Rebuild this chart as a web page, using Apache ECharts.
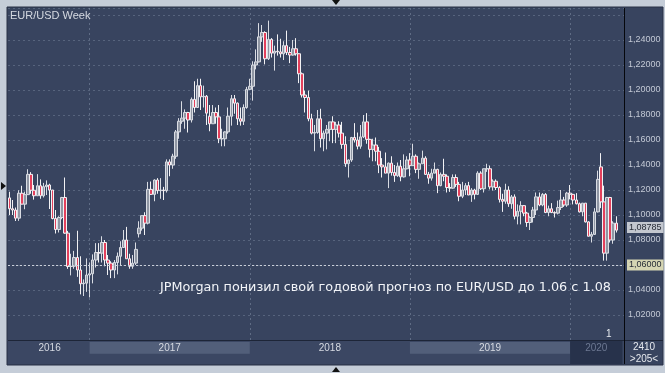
<!DOCTYPE html>
<html><head><meta charset="utf-8">
<script src="https://cdn.jsdelivr.net/npm/echarts@6/dist/echarts.min.js"></script>
<style>html,body{margin:0;padding:0;background:#c5cdd8;}#c{width:665px;height:373px;}</style>
</head><body><div id="c"></div>
<script>
// Weekly EUR/USD candles, each row: [open, high, low, close]
const firstWeek = '2016-07-04';
const ohlc2016 = [
[1.1137,1.1186,1.1000,1.1050],[1.1050,1.1120,1.1000,1.1040],[1.1040,1.1060,1.0952,1.0975],[1.0975,1.1198,1.0953,1.1174],
[1.1174,1.1234,1.1085,1.1087],[1.1087,1.1187,1.1046,1.1163],[1.1163,1.1366,1.1160,1.1325],[1.1325,1.1343,1.1170,1.1198],
[1.1198,1.1240,1.1123,1.1154],[1.1154,1.1327,1.1154,1.1234],[1.1234,1.1285,1.1130,1.1154],[1.1154,1.1257,1.1140,1.1227],
[1.1227,1.1277,1.1160,1.1240],[1.1240,1.1250,1.1048,1.1200],[1.1200,1.1200,1.0965,1.0972],[1.0972,1.1040,1.0852,1.0884],
[1.0884,1.0990,1.0860,1.0980],[1.0980,1.1145,1.0966,1.1140],[1.1140,1.1300,1.0850,1.0855],[1.0855,1.0873,1.0569,1.0588],
[1.0588,1.0690,1.0517,1.0590],[1.0590,1.0713,1.0570,1.0660],[1.0660,1.0874,1.0505,1.0560],[1.0560,1.0670,1.0365,1.0450],
[1.0450,1.0485,1.0352,1.0455],[1.0455,1.0653,1.0385,1.0520]
];
const ohlc2017 = [
[1.0520,1.0620,1.0341,1.0530],[1.0530,1.0685,1.0453,1.0640],[1.0640,1.0775,1.0580,1.0700],[1.0700,1.0775,1.0620,1.0695],
[1.0695,1.0830,1.0620,1.0780],[1.0780,1.0800,1.0590,1.0640],[1.0640,1.0680,1.0520,1.0615],[1.0615,1.0630,1.0495,1.0560],
[1.0560,1.0640,1.0495,1.0620],[1.0620,1.0700,1.0525,1.0670],[1.0670,1.0790,1.0600,1.0740],[1.0740,1.0880,1.0740,1.0800],
[1.0800,1.0905,1.0650,1.0650],[1.0650,1.0690,1.0570,1.0590],[1.0590,1.0680,1.0570,1.0615],[1.0615,1.0780,1.0600,1.0725],
[1.0850,1.0950,1.0820,1.0895],[1.0895,1.0995,1.0875,1.0995],[1.0995,1.1022,1.0840,1.0935],[1.0935,1.1265,1.0925,1.1205],
[1.1205,1.1268,1.1160,1.1165],[1.1165,1.1285,1.1110,1.1280],[1.1280,1.1295,1.1170,1.1195],[1.1195,1.1295,1.1130,1.1200],
[1.1200,1.1225,1.1120,1.1195],[1.1195,1.1445,1.1180,1.1425],[1.1425,1.1445,1.1310,1.1400],[1.1400,1.1490,1.1370,1.1470],
[1.1470,1.1680,1.1450,1.1665],[1.1665,1.1775,1.1610,1.1750],[1.1750,1.1910,1.1730,1.1775],[1.1775,1.1845,1.1690,1.1820],
[1.1820,1.1825,1.1660,1.1760],[1.1760,1.1940,1.1740,1.1925],[1.1925,1.2070,1.1820,1.1860],[1.1860,1.2090,1.1860,1.2035],
[1.2035,1.2090,1.1840,1.1945],[1.1945,1.2035,1.1860,1.1950],[1.1950,1.1960,1.1720,1.1815],[1.1790,1.1880,1.1670,1.1730],
[1.1730,1.1880,1.1730,1.1820],[1.1820,1.1860,1.1730,1.1785],[1.1785,1.1880,1.1575,1.1610],[1.1610,1.1690,1.1550,1.1610],
[1.1610,1.1670,1.1550,1.1665],[1.1665,1.1860,1.1650,1.1790],[1.1790,1.1960,1.1715,1.1930],[1.1930,1.1960,1.1810,1.1895],
[1.1895,1.1900,1.1720,1.1770],[1.1770,1.1860,1.1715,1.1750],[1.1750,1.1885,1.1720,1.1860],[1.1860,1.2025,1.1850,1.2005]
];
const ohlc2018 = [
[1.2005,1.2090,1.2000,1.2030],[1.2030,1.2230,1.1915,1.2200],[1.2200,1.2325,1.2165,1.2225],[1.2225,1.2535,1.2220,1.2425],
[1.2425,1.2520,1.2385,1.2460],[1.2460,1.2470,1.2205,1.2250],[1.2250,1.2555,1.2240,1.2405],[1.2405,1.2415,1.2260,1.2295],
[1.2295,1.2355,1.2155,1.2310],[1.2310,1.2445,1.2275,1.2305],[1.2305,1.2410,1.2260,1.2290],[1.2290,1.2390,1.2240,1.2355],
[1.2355,1.2475,1.2280,1.2300],[1.2300,1.2345,1.2215,1.2280],[1.2280,1.2400,1.2275,1.2330],[1.2330,1.2415,1.2275,1.2290],
[1.2290,1.2295,1.2055,1.2130],[1.2130,1.2140,1.1940,1.1960],[1.1960,1.1995,1.1820,1.1940],[1.1940,1.1995,1.1750,1.1770],
[1.1770,1.1810,1.1645,1.1655],[1.1655,1.1720,1.1510,1.1660],[1.1660,1.1840,1.1650,1.1770],[1.1770,1.1850,1.1540,1.1610],
[1.1610,1.1675,1.1510,1.1655],[1.1655,1.1720,1.1525,1.1685],[1.1685,1.1745,1.1590,1.1745],[1.1745,1.1790,1.1575,1.1685],
[1.1685,1.1745,1.1575,1.1720],[1.1720,1.1750,1.1620,1.1655],[1.1655,1.1745,1.1530,1.1565],[1.1565,1.1630,1.1385,1.1410],
[1.1410,1.1445,1.1300,1.1440],[1.1440,1.1625,1.1425,1.1620],[1.1620,1.1735,1.1580,1.1600],[1.1600,1.1660,1.1525,1.1550],
[1.1550,1.1720,1.1530,1.1625],[1.1625,1.1800,1.1615,1.1745],[1.1745,1.1815,1.1570,1.1605],[1.1605,1.1610,1.1460,1.1525],
[1.1525,1.1610,1.1430,1.1560],[1.1560,1.1620,1.1430,1.1510],[1.1510,1.1545,1.1335,1.1400],[1.1400,1.1455,1.1300,1.1385],
[1.1385,1.1500,1.1335,1.1335],[1.1335,1.1420,1.1215,1.1415],[1.1415,1.1470,1.1315,1.1340],[1.1340,1.1400,1.1265,1.1315],
[1.1315,1.1420,1.1305,1.1390],[1.1390,1.1440,1.1270,1.1305],[1.1305,1.1485,1.1300,1.1370],[1.1370,1.1470,1.1365,1.1440]
];
const ohlc2019 = [
[1.1440,1.1495,1.1310,1.1395],[1.1395,1.1570,1.1395,1.1470],[1.1470,1.1485,1.1335,1.1365],[1.1365,1.1420,1.1290,1.1410],
[1.1410,1.1515,1.1410,1.1455],[1.1455,1.1470,1.1320,1.1325],[1.1325,1.1345,1.1250,1.1295],[1.1295,1.1370,1.1275,1.1335],
[1.1335,1.1420,1.1335,1.1365],[1.1365,1.1370,1.1175,1.1235],[1.1235,1.1340,1.1230,1.1325],[1.1325,1.1450,1.1270,1.1310],
[1.1310,1.1325,1.1180,1.1220],[1.1220,1.1255,1.1185,1.1215],[1.1215,1.1325,1.1210,1.1300],[1.1300,1.1325,1.1225,1.1245],
[1.1245,1.1265,1.1110,1.1150],[1.1150,1.1265,1.1135,1.1200],[1.1200,1.1255,1.1160,1.1235],[1.1235,1.1265,1.1160,1.1160],
[1.1160,1.1215,1.1105,1.1200],[1.1200,1.1210,1.1125,1.1165],[1.1165,1.1350,1.1160,1.1335],[1.1335,1.1350,1.1200,1.1210],
[1.1210,1.1370,1.1180,1.1370],[1.1370,1.1410,1.1345,1.1370],[1.1370,1.1395,1.1205,1.1225],[1.1225,1.1285,1.1195,1.1270],
[1.1270,1.1285,1.1200,1.1220],[1.1220,1.1230,1.1100,1.1125],[1.1125,1.1170,1.1025,1.1110],[1.1110,1.1250,1.1090,1.1200],
[1.1200,1.1230,1.1065,1.1090],[1.1090,1.1160,1.1050,1.1145],[1.1145,1.1165,1.0965,1.0990],[1.0990,1.1085,1.0925,1.1030],
[1.1030,1.1110,1.0925,1.1075],[1.1075,1.1080,1.0990,1.1015],[1.1015,1.1025,1.0905,1.0940],[1.0940,1.0990,1.0880,1.0980],
[1.0980,1.1065,1.0940,1.1040],[1.1040,1.1180,1.1000,1.1145],[1.1145,1.1180,1.1070,1.1080],[1.1080,1.1175,1.1070,1.1165],
[1.1165,1.1175,1.1015,1.1020],[1.1020,1.1075,1.0990,1.1050],[1.1050,1.1095,1.1015,1.1020],[1.1020,1.1030,1.0980,1.1015],
[1.1015,1.1115,1.1005,1.1060],[1.1060,1.1200,1.1040,1.1120],[1.1120,1.1145,1.1065,1.1080],[1.1080,1.1185,1.1065,1.1175]
];
const ohlc2020 = [
[1.1175,1.1240,1.1125,1.1165],[1.1165,1.1170,1.1085,1.1120],[1.1120,1.1175,1.1085,1.1090],[1.1090,1.1100,1.1020,1.1025],
[1.1025,1.1095,1.0990,1.1095],[1.1095,1.1095,1.0940,1.0945],[1.0945,1.0950,1.0830,1.0830],[1.0830,1.0865,1.0780,1.0845],
[1.0845,1.1055,1.0840,1.1025],[1.1025,1.1355,1.1020,1.1285],[1.1385,1.1495,1.1055,1.1105],[1.1105,1.1235,1.0635,1.0695],
[1.0695,1.1145,1.0635,1.1140],[1.1140,1.1145,1.0780,1.0800],[1.0800,1.0950,1.0770,1.0935],[1.0935,1.0990,1.0860,1.0879]
];
const emptySlots = 2;
const yearStarts = ['2016-07-04','2017-01-02','2018-01-01','2018-12-31','2019-12-30'];
const yearNames = ['2016','2017','2018','2019','2020'];
const yTicks = [1.02,1.04,1.08,1.10,1.12,1.14,1.16,1.18,1.20,1.22,1.24];
const lastPrice = 1.08785;
const forecastLevel = 1.06;
const titleText = 'EUR/USD Week';
const newsText = 'JPMorgan понизил свой годовой прогноз по EUR/USD до 1.06 с 1.08';

const rows = [].concat(ohlc2016, ohlc2017, ohlc2018, ohlc2019, ohlc2020);
const weeks = [];
{
  const d0 = new Date(firstWeek + 'T00:00:00Z');
  for (let i = 0; i < rows.length + emptySlots; i++) {
    const d = new Date(d0.getTime() + i * 7 * 86400000);
    weeks.push(d.toISOString().slice(0, 10));
  }
}
const candles = rows.map(r => [r[0], r[3], r[2], r[1]]);
const lastWeek = weeks[weeks.length - 1];

const fmt = v => v.toFixed(5).replace('.', ',');
const chart = echarts.init(document.getElementById('c'), null, {renderer: 'canvas'});

const bandLight = 'rgba(110,124,150,0.45)';
const bandDark = '#27324b';
const yrLabel = (c) => ({show: true, position: 'inside', color: c, fontSize: 10, fontFamily: 'Liberation Sans, Arial, sans-serif'});
const bands = [
  [{name: yearNames[0], xAxis: yearStarts[0], yAxis: 0.45, itemStyle: {color: 'rgba(0,0,0,0)'}, label: yrLabel('#d6dae2')}, {xAxis: yearStarts[1], yAxis: 0.96}],
  [{name: yearNames[1], xAxis: yearStarts[1], yAxis: 0.45, itemStyle: {color: bandLight}, label: yrLabel('#d6dae2')}, {xAxis: yearStarts[2], yAxis: 0.96}],
  [{name: yearNames[2], xAxis: yearStarts[2], yAxis: 0.45, itemStyle: {color: 'rgba(0,0,0,0)'}, label: yrLabel('#d6dae2')}, {xAxis: yearStarts[3], yAxis: 0.96}],
  [{name: yearNames[3], xAxis: yearStarts[3], yAxis: 0.45, itemStyle: {color: bandLight}, label: yrLabel('#d6dae2')}, {xAxis: yearStarts[4], yAxis: 0.96}],
  [{name: '', xAxis: yearStarts[4], yAxis: 0, itemStyle: {color: bandDark}, label: {show: false}}, {xAxis: lastWeek, yAxis: 1}],
  [{name: yearNames[4], xAxis: yearStarts[4], yAxis: 0.45, itemStyle: {color: 'rgba(0,0,0,0)'}, label: yrLabel('#6c7892')}, {xAxis: lastWeek, yAxis: 0.96}]
];

const yearLines = yearStarts.slice(1).map(w => ({xAxis: w, lineStyle: {color: 'rgba(170,182,205,0.35)', type: [2, 3], width: 1}, label: {show: false}}));
const priceLabel = (bg) => ({show: true, position: 'end', distance: 3, backgroundColor: bg, color: '#262b36', fontSize: 9, fontFamily: 'Liberation Sans, Arial, sans-serif', padding: [1, 2, 1, 2]});

chart.setOption({
  animation: false,
  backgroundColor: '#c5cdd8',
  grid: [
    {left: 8, right: 41, top: 8, bottom: 33},
    {left: 8, right: 41, top: 341, height: 23}
  ],
  xAxis: [
    {type: 'category', gridIndex: 0, data: weeks, boundaryGap: true, axisLine: {show: false}, axisTick: {show: false}, axisLabel: {show: false}, splitLine: {show: false}},
    {type: 'category', gridIndex: 1, data: weeks, boundaryGap: true, axisLine: {show: false}, axisTick: {show: false}, axisLabel: {show: false}, splitLine: {show: false}}
  ],
  yAxis: [
    {type: 'value', gridIndex: 0, position: 'right', min: 1.00, max: 1.2656, interval: 0.02, scale: false,
     axisLine: {show: false}, axisTick: {show: false},
     axisLabel: {margin: 4, color: '#c3c9d5', fontSize: 9, fontFamily: 'Liberation Sans, Arial, sans-serif',
       showMinLabel: false, showMaxLabel: false,
       formatter: v => yTicks.some(t => Math.abs(t - v) < 1e-6) ? fmt(v) : ''},
     splitLine: {show: true, lineStyle: {color: 'rgba(170,182,205,0.28)', type: [2, 3], width: 1}}},
    {type: 'value', gridIndex: 1, min: 0, max: 1, show: false}
  ],
  series: [
    {
      type: 'candlestick', xAxisIndex: 0, yAxisIndex: 0, data: candles, barWidth: 3,
      itemStyle: {color: '#8f96a3', color0: '#e3405c', borderColor: '#d9dce3', borderColor0: '#f2f2f4', borderWidth: 1},
      markLine: {
        silent: true, symbol: ['none', 'none'], animation: false,
        data: [
          {yAxis: forecastLevel, lineStyle: {color: '#c9ced8', type: [2, 2], width: 1},
           label: Object.assign(priceLabel('#d5d5b3'), {formatter: fmt(forecastLevel)})}
        ].concat(yearLines)
      }
    },
    {
      type: 'line', xAxisIndex: 0, yAxisIndex: 0, data: [], silent: true,
      markLine: {
        silent: true, symbol: ['none', 'none'], animation: false,
        data: [
          {yAxis: lastPrice, lineStyle: {color: 'rgba(0,0,0,0)', width: 0},
           label: Object.assign(priceLabel('#c3c7cf'), {formatter: fmt(lastPrice)})}
        ]
      }
    },
    {
      type: 'line', xAxisIndex: 1, yAxisIndex: 1, data: [], silent: true,
      markArea: {silent: true, data: bands}
    }
  ],
  graphic: [
    {type: 'rect', z: -10, shape: {x: 7, y: 7, width: 656, height: 358}, style: {fill: '#38445f', stroke: '#283047', lineWidth: 1}},
    {type: 'rect', z: -9, shape: {x: 8, y: 341, width: 616, height: 23}, style: {fill: '#3b4763'}},
    {type: 'line', z: 50, shape: {x1: 8, y1: 340.5, x2: 663, y2: 340.5}, style: {stroke: '#1d2537', lineWidth: 1}},
    {type: 'line', z: 50, shape: {x1: 624.5, y1: 8, x2: 624.5, y2: 364}, style: {stroke: '#05070c', lineWidth: 1}},
    {type: 'text', z: 50, left: 10, top: 10, style: {text: titleText, fill: '#d4d8e0', font: '11px "Liberation Sans", Arial, sans-serif'}},
    {type: 'text', z: 50, left: 160, top: 281, style: {text: newsText, fill: '#f2f4f8', font: '12.8px "DejaVu Sans", sans-serif'}},
    {type: 'text', z: 50, left: 606, top: 329, style: {text: '1', fill: '#e8ebf0', font: '10px "Liberation Sans", Arial, sans-serif'}},
    {type: 'text', z: 50, x: 644, y: 347, style: {text: '2410', fill: '#e6e9ee', font: '10px "Liberation Sans", Arial, sans-serif', textAlign: 'center', textVerticalAlign: 'middle'}},
    {type: 'text', z: 50, x: 644, y: 359, style: {text: '>205<', fill: '#e6e9ee', font: '10px "Liberation Sans", Arial, sans-serif', textAlign: 'center', textVerticalAlign: 'middle'}},
    {type: 'polygon', z: 50, shape: {points: [[332, 0], [340, 0], [336, 5]]}, style: {fill: '#111'}},
    {type: 'polygon', z: 50, shape: {points: [[332, 372], [340, 372], [336, 367]]}, style: {fill: '#111'}},
    {type: 'polygon', z: 50, shape: {points: [[1, 182], [1, 190], [6, 186]]}, style: {fill: '#111'}}
  ]
});
</script>
</body></html>
